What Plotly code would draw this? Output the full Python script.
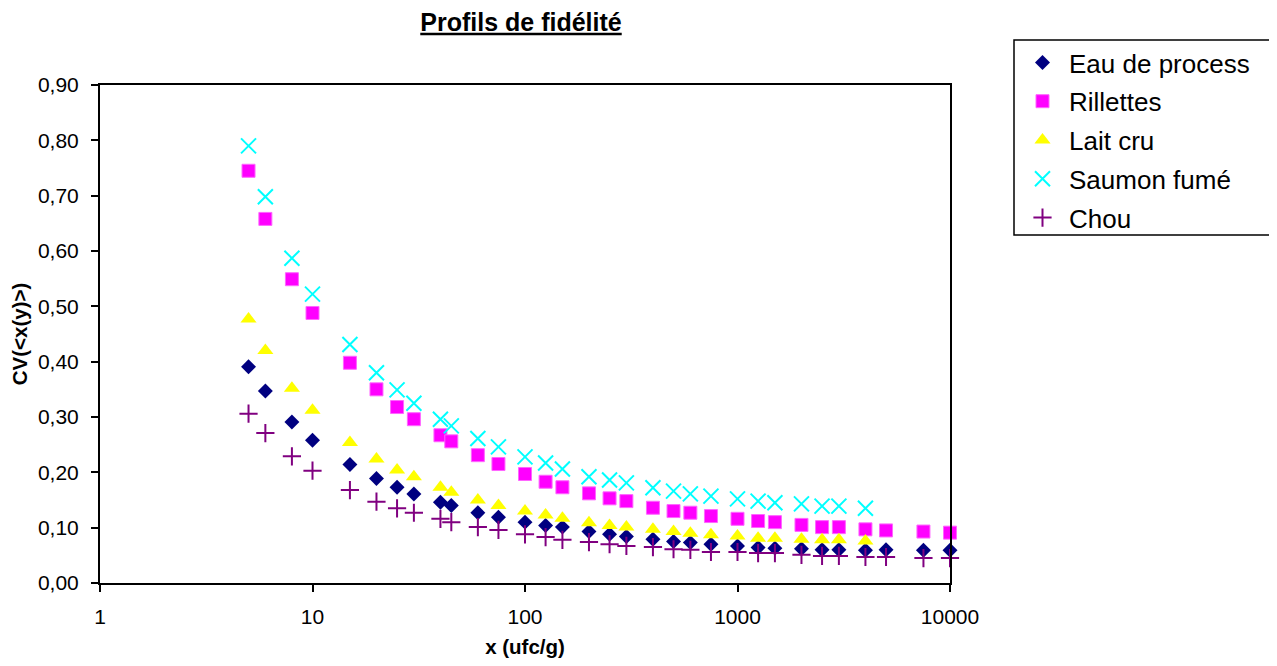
import plotly.graph_objects as go

x_vals = [5, 6, 8, 10, 15, 20, 25, 30, 40, 45, 60, 75, 100, 125, 150, 200, 250, 300,
          400, 500, 600, 750, 1000, 1250, 1500, 2000, 2500, 3000, 4000, 5000, 7500, 10000]

eau_process = [0.391, 0.347, 0.291, 0.258, 0.214, 0.189, 0.173, 0.161, 0.146, 0.140, 0.127, 0.119,
               0.110, 0.104, 0.101, 0.093, 0.088, 0.084, 0.079, 0.075, 0.073, 0.070, 0.067, 0.064,
               0.063, 0.062, 0.060, 0.060, 0.059, 0.060, 0.059, 0.059]
rillettes = [0.745, 0.658, 0.549, 0.488, 0.398, 0.350, 0.318, 0.296, 0.267, 0.256, 0.231, 0.215,
             0.197, 0.183, 0.173, 0.162, 0.153, 0.148, 0.136, 0.130, 0.127, 0.121, 0.116, 0.112,
             0.110, 0.105, 0.101, 0.101, 0.097, 0.095, 0.093, 0.091]
lait_cru = [0.477, 0.420, 0.352, 0.312, 0.254, 0.224, 0.204, 0.192, 0.173, 0.164, 0.150, 0.140,
            0.130, 0.123, 0.117, 0.109, 0.104, 0.101, 0.097, 0.093, 0.090, 0.087, 0.085, 0.081,
            0.081, 0.079, 0.078, 0.078, 0.076]
saumon_fume = [0.790, 0.698, 0.587, 0.522, 0.431, 0.380, 0.349, 0.325, 0.296, 0.284, 0.261, 0.246,
               0.228, 0.217, 0.206, 0.192, 0.186, 0.181, 0.172, 0.166, 0.161, 0.157, 0.152, 0.148,
               0.145, 0.143, 0.139, 0.139, 0.135]
chou = [0.306, 0.271, 0.229, 0.203, 0.168, 0.147, 0.135, 0.127, 0.116, 0.110, 0.101, 0.096,
        0.088, 0.083, 0.078, 0.074, 0.070, 0.067, 0.065, 0.061, 0.060, 0.056, 0.056, 0.054,
        0.054, 0.051, 0.049, 0.049, 0.047, 0.047, 0.045, 0.045]

x_ticks = [1, 10, 100, 1000, 10000]
x_tick_labels = ["1", "10", "100", "1000", "10000"]
y_ticks = [0.0, 0.1, 0.2, 0.3, 0.4, 0.5, 0.6, 0.7, 0.8, 0.9]

FONT = "Arial, Liberation Sans, sans-serif"

# page body has an 8px margin: figure coordinates are offset by 8px
OFF = 8
W, H = 1277, 650
PL, PR, PT, PB = 100 - OFF, 950 - OFF, 85 - OFF, 583 - OFF


def px_to_paper_x(px):
    return (px - OFF - PL) / (PR - PL)


def px_to_paper_y(py):
    return (PB - (py - OFF)) / (PB - PT)


series = [
    ("Eau de process", eau_process, dict(symbol="diamond", size=11.5, color="#000080")),
    ("Rillettes", rillettes, dict(symbol="square", size=13, color="#FF00FF",
                                  line=dict(color="#FF66FF", width=1))),
    ("Lait cru", lait_cru, dict(symbol="triangle-up", size=14, color="#FFFF00")),
    ("Saumon fumé", saumon_fume, dict(symbol="x-thin-open", size=15, color="#00FFFF",
                                      line=dict(color="#00FFFF", width=2))),
    ("Chou", chou, dict(symbol="cross-thin-open", size=13, color="#800080",
                        line=dict(color="#800080", width=2))),
]

fig = go.Figure()
for name, vals, mk in series:
    fig.add_trace(go.Scatter(
        x=x_vals[:len(vals)], y=vals, name=name, mode="markers",
        marker=mk, cliponaxis=False, legendgroup=name,
    ))

# legend frame: open on the right, it runs past the edge of the window as in the original
lx0, lx1 = px_to_paper_x(1014), px_to_paper_x(1300)
ly_top, ly_bot = px_to_paper_y(40), px_to_paper_y(235)
fig.add_shape(
    type="path", xref="paper", yref="paper",
    path=f"M {lx1},{ly_top} L {lx0},{ly_top} L {lx0},{ly_bot} L {lx1},{ly_bot}",
    line=dict(color="black", width=1.5),
)

fig.update_layout(
    width=W, height=H,
    paper_bgcolor="white", plot_bgcolor="white",
    separators=", ",
    font=dict(family=FONT, size=21, color="black"),
    margin=dict(l=PL, r=W - PR, t=PT, b=H - PB, autoexpand=False),
    title=dict(text="<b><u>Profils de fidélité</u></b>", x=(521 - OFF) / W, xanchor="center",
               xref="container", yref="container",
               y=1 - (22 - OFF) / H, yanchor="middle", font=dict(family=FONT, size=25)),
    showlegend=True,
    legend=dict(
        xref="container", yref="container",
        x=(1016 - OFF) / W, y=1 - (39 - OFF) / H, xanchor="left", yanchor="top",
        borderwidth=0, bgcolor="rgba(0,0,0,0)",
        font=dict(family=FONT, size=26), itemwidth=43,
        traceorder="grouped", tracegroupgap=2,
    ),
)

fig.update_xaxes(
    type="log", range=[0, 4], tickvals=x_ticks, ticktext=x_tick_labels,
    showgrid=False, zeroline=False, showline=True, linecolor="black", linewidth=2,
    mirror=True, ticks="outside", ticklen=7, tickwidth=2, tickcolor="black",
    tickfont=dict(family=FONT, size=21), ticklabelstandoff=7,
    title=dict(text="<b>x (ufc/g)</b>", font=dict(family=FONT, size=20.5), standoff=17),
)
fig.update_yaxes(
    range=[0, 0.9], tickvals=y_ticks, tickformat=".2f",
    showgrid=False, zeroline=False, showline=True, linecolor="black", linewidth=2,
    mirror=True, ticks="outside", ticklen=7, tickwidth=2, tickcolor="black",
    tickfont=dict(family=FONT, size=21), ticklabelstandoff=8,
    title=dict(text="<b>CV(<x(y)>)</b>", font=dict(family=FONT, size=20.5), standoff=13),
)

fig.write_html("out.html")
